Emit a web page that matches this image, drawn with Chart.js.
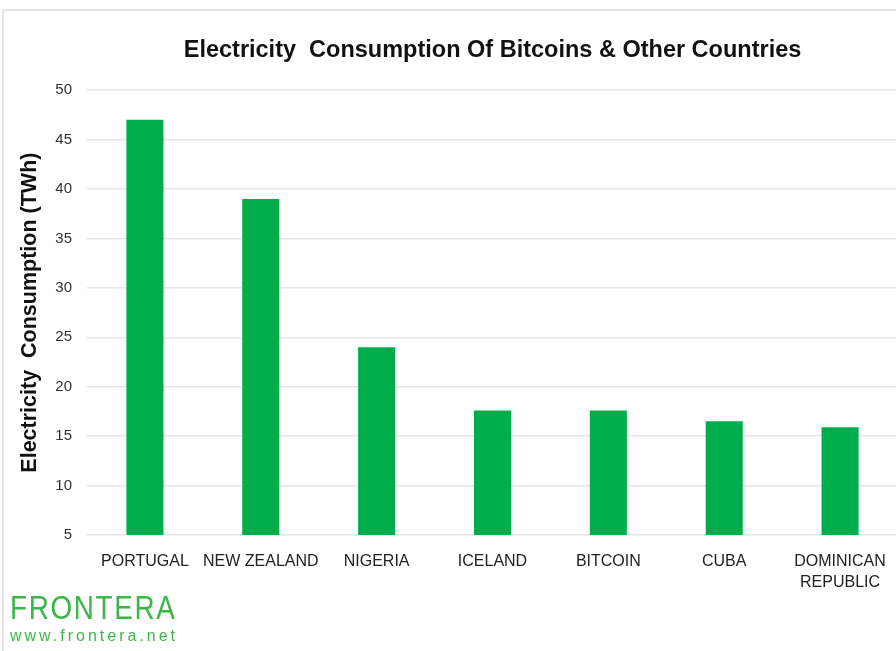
<!DOCTYPE html>
<html>
<head>
<meta charset="utf-8">
<script src="https://cdn.jsdelivr.net/npm/chart.js@4"></script>
<style>
  html, body { margin: 0; padding: 0; background: #fff; }
  #wrap { position: relative; width: 896px; height: 651px; overflow: hidden; }
  #logo { position: absolute; left: 10px; top: 589px; color: #3cb54a; font-family: 'Liberation Sans', Arial, sans-serif; }
  #logo .name { font-size: 34px; letter-spacing: 2px; line-height: 36px; transform: scaleX(0.82); transform-origin: left center; }
  #logo .url { font-size: 16px; letter-spacing: 3px; line-height: 18px; margin-top: 2px; white-space: nowrap; }
</style>
</head>
<body>
<div id="wrap">
  <canvas id="chart" width="898" height="651"></canvas>
  <div id="logo">
    <div class="name">FRONTERA</div>
    <div class="url">www.frontera.net</div>
  </div>
</div>
<script>
// chart data
const countries = ['PORTUGAL', 'NEW ZEALAND', 'NIGERIA', 'ICELAND', 'BITCOIN', 'CUBA', ['DOMINICAN', 'REPUBLIC']];
const consumption = [47, 39, 24, 17.6, 17.6, 16.5, 15.9];
const yTicks = [5, 10, 15, 20, 25, 30, 35, 40, 45, 50];

const frame = {
    id: 'frame',
    beforeDraw(chart) {
        const ctx = chart.ctx;
        ctx.save();
        ctx.strokeStyle = '#e6e6e6';
        ctx.lineWidth = 2;
        ctx.strokeRect(3, 10, 1000, 1000);
        ctx.restore();
    }
};

new Chart(document.getElementById('chart'), {
    type: 'bar',
    data: {
        labels: countries,
        datasets: [{
            data: consumption,
            backgroundColor: '#00ad4d',
            borderWidth: 0,
            categoryPercentage: 1,
            barPercentage: 0.32
        }]
    },
    options: {
        responsive: false,
        animation: false,
        layout: { padding: { left: 0, right: 0, top: 0, bottom: 0 } },
        plugins: {
            legend: { display: false },
            tooltip: { enabled: false },
            title: {
                display: true,
                fullSize: false,
                text: 'Electricity  Consumption Of Bitcoins & Other Countries',
                color: '#111',
                font: { family: 'Liberation Sans', size: 23.5, weight: 'bold' },
                padding: { top: 36, bottom: 26 }
            }
        },
        scales: {
            x: {
                grid: { display: false },
                border: { display: false },
                ticks: {
                    color: '#222',
                    padding: 8,
                    maxRotation: 0,
                    autoSkip: false,
                    font: { family: 'Liberation Sans', size: 16, lineHeight: 1.3 }
                },
                afterFit(scale) { scale.height = 116; }
            },
            y: {
                min: 5,
                max: 50,
                afterBuildTicks(scale) { scale.ticks = yTicks.map(v => ({ value: v })); },
                grid: { color: '#e6e6e6', lineWidth: 1.5, drawTicks: false },
                border: { display: false },
                ticks: {
                    color: '#333',
                    padding: 15,
                    font: { family: 'Liberation Sans', size: 15 }
                },
                title: {
                    display: true,
                    text: 'Electricity  Consumption (TWh)',
                    color: '#111',
                    font: { family: 'Liberation Sans', size: 21.5, weight: 'bold' },
                    padding: { top: 17, bottom: 0 }
                },
                afterFit(scale) { scale.width = 87; }
            }
        }
    },
    plugins: [frame]
});
</script>
</body>
</html>
